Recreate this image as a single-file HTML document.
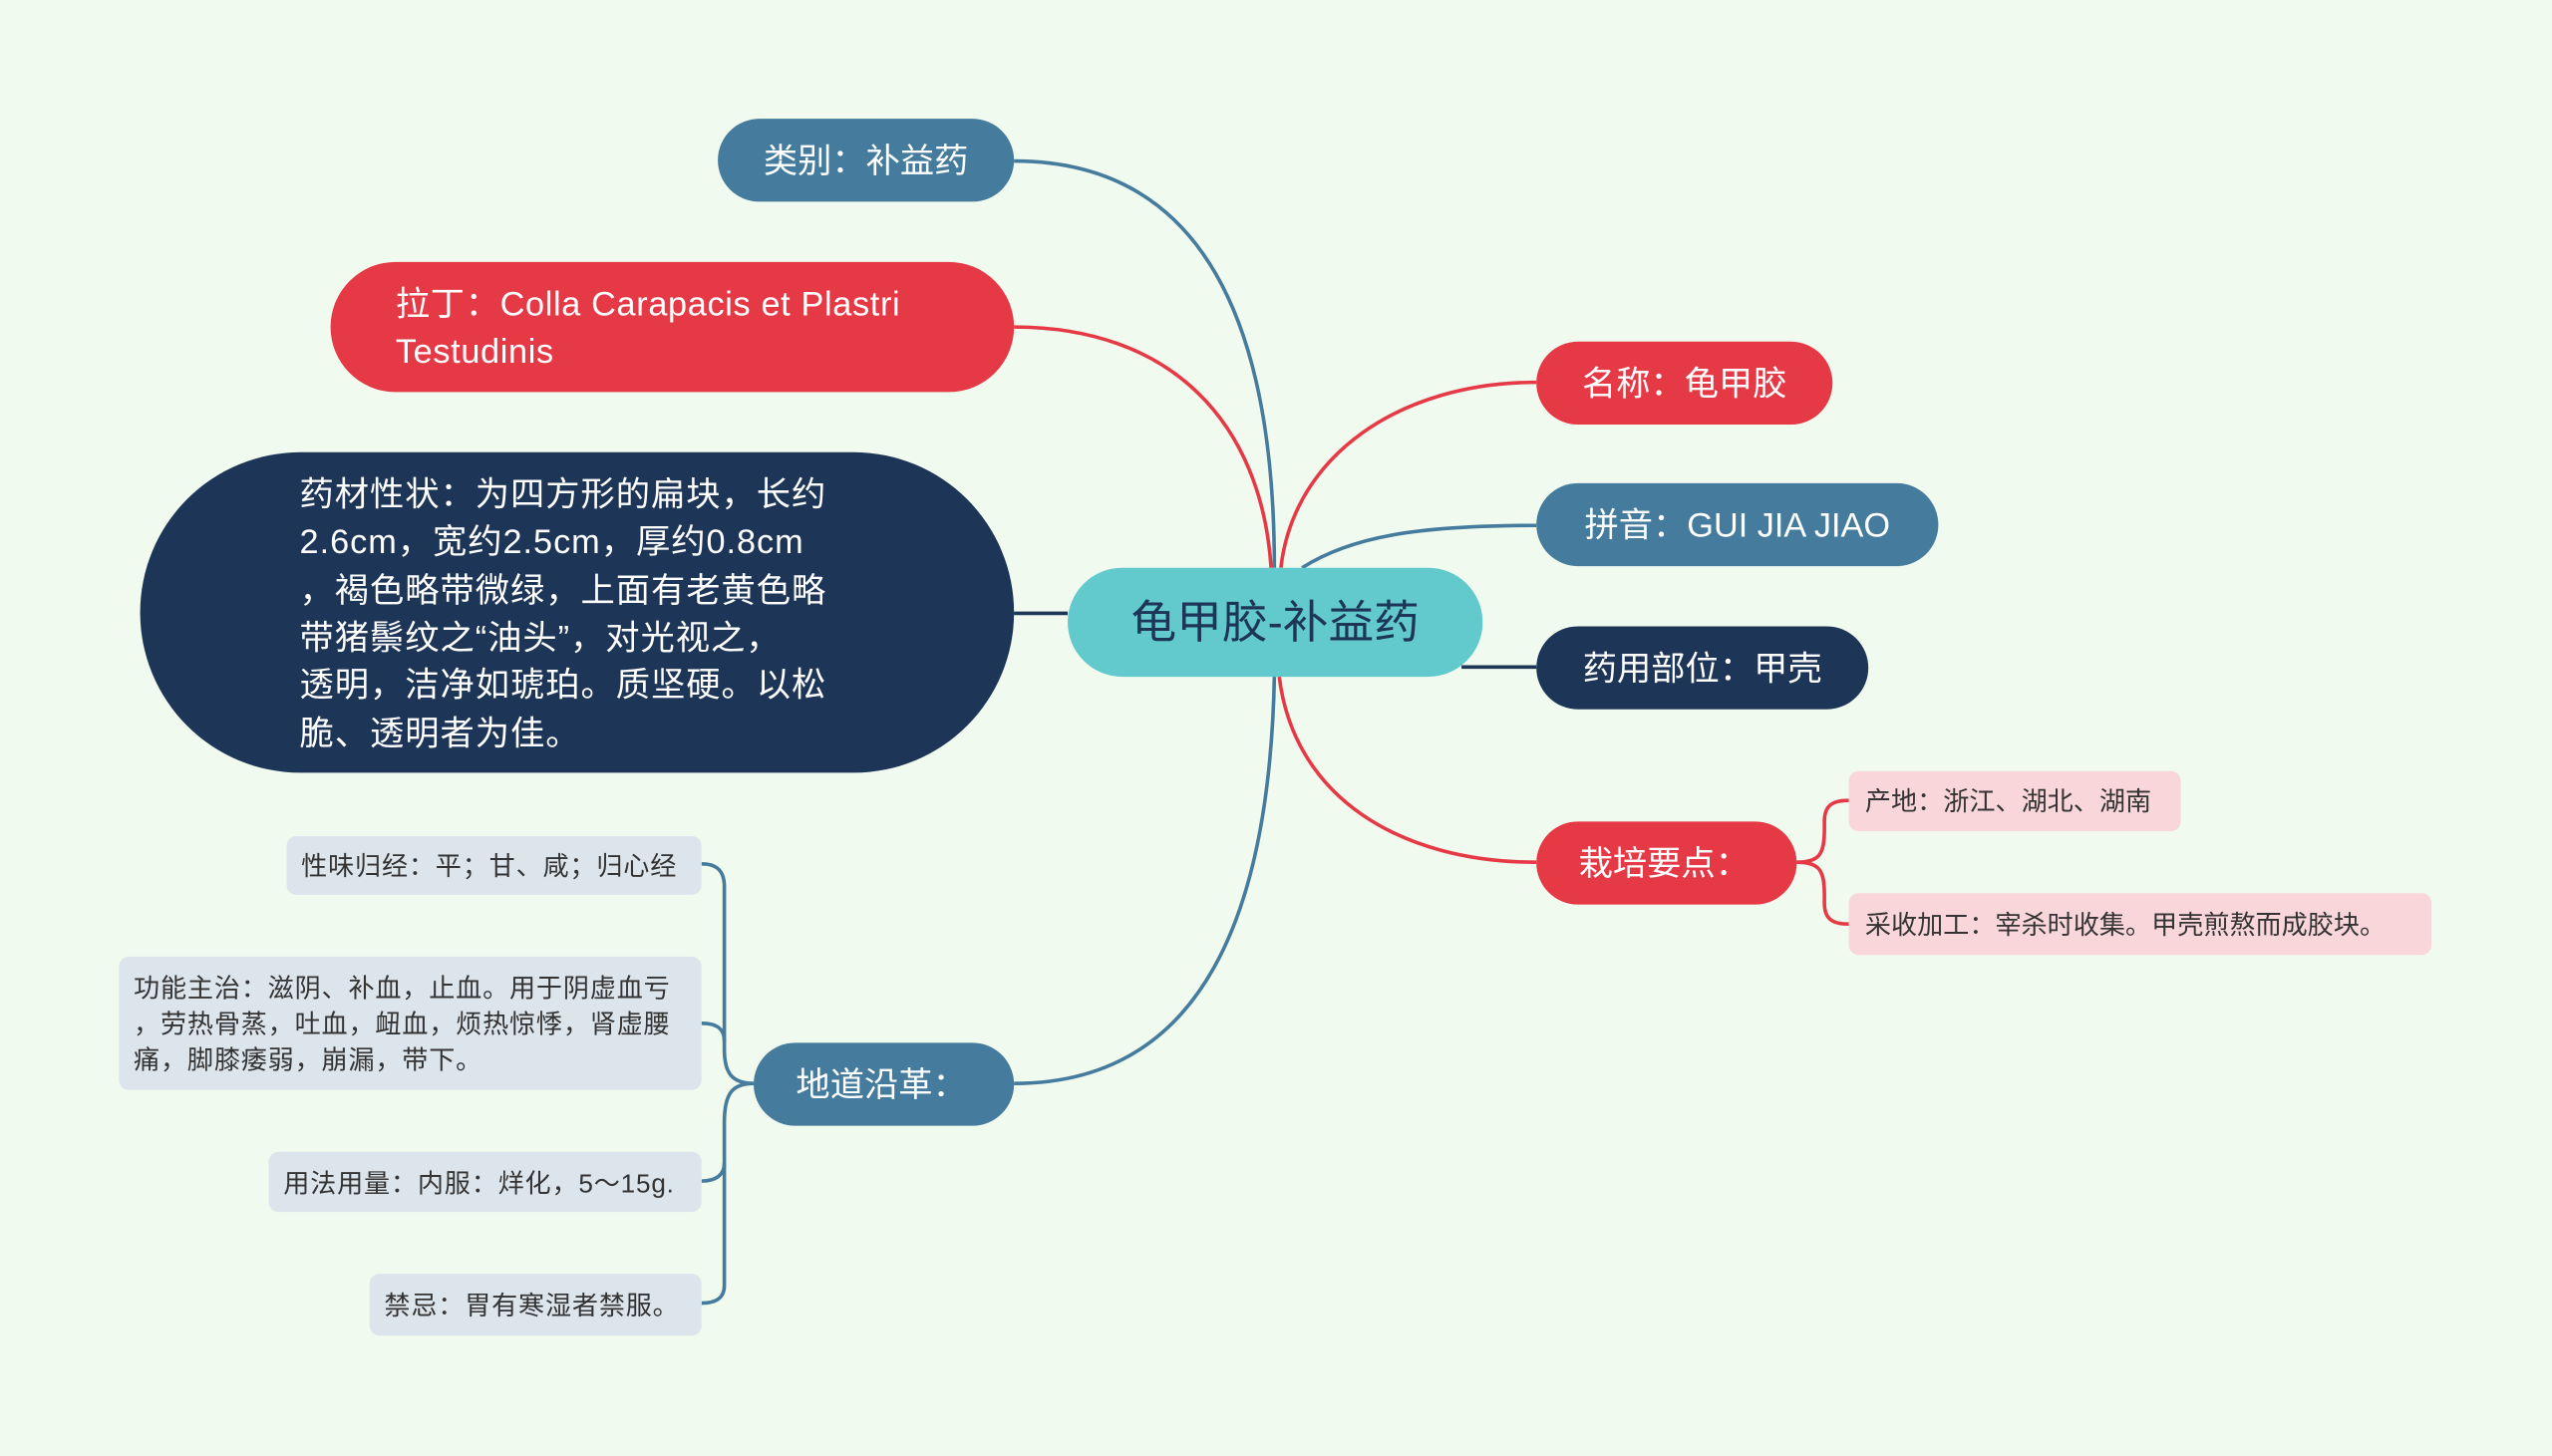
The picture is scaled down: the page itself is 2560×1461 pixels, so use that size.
<!DOCTYPE html>
<html><head><meta charset="utf-8">
<style>
html,body{margin:0;padding:0;background:#f1faef;}
svg{display:block;}
text{font-family:"Liberation Sans","Noto Sans CJK SC",sans-serif;}
</style></head>
<body>
<svg width="2560" height="1461" viewBox="0 0 1568 895" xmlns="http://www.w3.org/2000/svg">
<rect width="1568" height="895" fill="#f1faef"/>
<g fill="none" stroke-width="2.2">
<path d="M783 349 C783 200 740 99 623 99" stroke="#457b9d"/>
<path d="M781 349 C775 260 720 201 623 201" stroke="#e63946"/>
<path d="M656 377 L623 377" stroke="#1d3557"/>
<path d="M787 349 C795 280 860 235 944 235" stroke="#e63946"/>
<path d="M800 349 C830 330 870 323 944 323" stroke="#457b9d"/>
<path d="M898 410 L944 410" stroke="#1d3557"/>
<path d="M786 416 C795 490 860 530 944 530" stroke="#e63946"/>
<path d="M783 416 C780 560 740 666 623 666" stroke="#457b9d"/>
<path d="M1104 530 C1118 530 1121 525 1121 510 L1121 505 C1121 495 1126 492 1136 492" stroke="#e63946"/>
<path d="M1104 530 C1118 530 1121 535 1121 550 L1121 555 C1121 565 1126 568 1136 568" stroke="#e63946"/>
<path d="M463 666 C450 666 445 660 445 645 L445 545 C445 535 440 531 431 531" stroke="#457b9d"/>
<path d="M445 640 C445 632 440 629 431 629" stroke="#457b9d"/>
<path d="M463 666 C450 666 445 672 445 690 L445 715 C445 722 440 726 431 726" stroke="#457b9d"/>
<path d="M445 715 L445 790 C445 798 440 801 431 801" stroke="#457b9d"/>
</g>
<rect x="656" y="349" width="255" height="67" rx="33.5" fill="#62c9cc"/>
<text x="783.5" y="392" font-size="28" fill="#1d3557" text-anchor="middle">龟甲胶-补益药</text>

<rect x="441" y="73" width="182" height="51" rx="25.5" fill="#457b9d"/>
<text x="532" y="106" font-size="21" fill="#fff" text-anchor="middle">类别：补益药</text>

<rect x="203" y="161" width="420" height="80" rx="40" fill="#e63946"/>
<text x="243" y="194" font-size="21" fill="#fff" letter-spacing="0.4">拉丁：Colla Carapacis et Plastri</text>
<text x="243" y="223" font-size="21" fill="#fff" letter-spacing="0.4">Testudinis</text>

<rect x="86" y="278" width="537" height="197" rx="98.5" fill="#1d3557"/>
<g font-size="21" fill="#fff" letter-spacing="0.6">
<text x="184" y="311">药材性状：为四方形的扁块，长约</text>
<text x="184" y="340">2.6cm，宽约2.5cm，厚约0.8cm</text>
<text x="184" y="370">，褐色略带微绿，上面有老黄色略</text>
<text x="184" y="399">带猪鬃纹之“油头”，对光视之，</text>
<text x="184" y="428">透明，洁净如琥珀。质坚硬。以松</text>
<text x="184" y="458">脆、透明者为佳。</text>
</g>

<rect x="944" y="210" width="182" height="51" rx="25.5" fill="#e63946"/>
<text x="1035" y="243" font-size="21" fill="#fff" text-anchor="middle">名称：龟甲胶</text>
<rect x="944" y="297" width="247" height="51" rx="25.5" fill="#457b9d"/>
<text x="1067.5" y="330" font-size="21" fill="#fff" text-anchor="middle">拼音：GUI JIA JIAO</text>
<rect x="944" y="385" width="204" height="51" rx="25.5" fill="#1d3557"/>
<text x="1046" y="418" font-size="21" fill="#fff" text-anchor="middle">药用部位：甲壳</text>
<rect x="944" y="505" width="160" height="51" rx="25.5" fill="#e63946"/>
<text x="970" y="538" font-size="21" fill="#fff">栽培要点：</text>

<rect x="1136" y="474" width="204" height="37" rx="6" fill="#f9d6da"/>
<text x="1146" y="498" font-size="16" fill="#333">产地：浙江、湖北、湖南</text>
<rect x="1136" y="549" width="358" height="38" rx="6" fill="#f9d6da"/>
<text x="1146" y="574" font-size="16" fill="#333">采收加工：宰杀时收集。甲壳煎熬而成胶块。</text>

<rect x="463" y="641" width="160" height="51" rx="25.5" fill="#457b9d"/>
<text x="489" y="674" font-size="21" fill="#fff">地道沿革：</text>

<g font-size="16" fill="#333" letter-spacing="0.5">
<rect x="176" y="514" width="255" height="36" rx="6" fill="#dde5ec"/>
<text x="185" y="538">性味归经：平；甘、咸；归心经</text>
<rect x="73" y="588" width="358" height="82" rx="6" fill="#dde5ec"/>
<text x="82" y="613">功能主治：滋阴、补血，止血。用于阴虚血亏</text>
<text x="82" y="635">，劳热骨蒸，吐血，衄血，烦热惊悸，肾虚腰</text>
<text x="82" y="657">痛，脚膝痿弱，崩漏，带下。</text>
<rect x="165" y="708" width="266" height="37" rx="6" fill="#dde5ec"/>
<text x="174" y="733">用法用量：内服：烊化，5～15g.</text>
<rect x="227" y="783" width="204" height="38" rx="6" fill="#dde5ec"/>
<text x="236" y="808">禁忌：胃有寒湿者禁服。</text>
</g>
</svg>
</body></html>
